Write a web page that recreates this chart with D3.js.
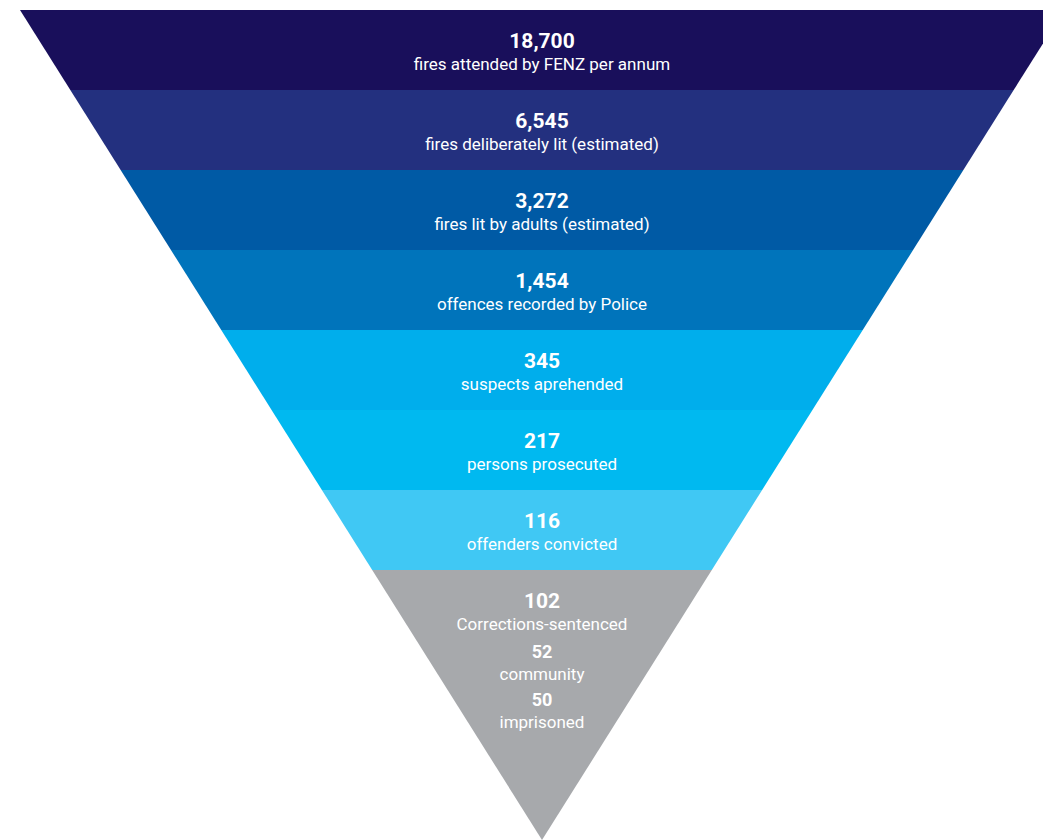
<!DOCTYPE html>
<html>
<head>
  <meta charset="utf-8">
  <title>Deliberately lit fires funnel</title>
  <style>
    body { margin: 0; background: #fff; }
    svg { display: block; }
    text { font-family: Roboto, "Noto Sans", sans-serif; fill: #fff; }
    .num { font-weight: 700; }
  </style>
</head>
<body>
  <script src="https://cdn.jsdelivr.net/npm/d3@7/dist/d3.min.js"></script>
  <script>
    // data
    var values = [18700, 6545, 3272, 1454, 345, 217, 116, 102];
    var labels = [
      "fires attended by FENZ per annum",
      "fires deliberately lit (estimated)",
      "fires lit by adults (estimated)",
      "offences recorded by Police",
      "suspects aprehended",
      "persons prosecuted",
      "offenders convicted",
      "Corrections-sentenced"
    ];
    var subValues = [52, 50];
    var subLabels = ["community", "imprisoned"];
    var colors = ["#190f5b", "#23307f", "#005aa5", "#0074bb", "#00aeec", "#00b9f0", "#40c8f4", "#a7a9ac"];

    var width = 1043, height = 840;
    var topY = 10, apexY = 840, cx = 542, halfTop = 522;
    var bandH = 80;

    var svg = d3.select("body").append("svg").attr("width", width).attr("height", height);

    // band edges for the first seven stages, last stage runs to the apex
    var y = d3.scaleLinear().domain([0, values.length - 1]).range([topY, topY + bandH * (values.length - 1)]);
    var half = d3.scaleLinear().domain([topY, apexY]).range([halfTop, 0]);
    var fmt = d3.format(",");

    var bands = values.map(function(v, i) {
      var y0 = y(i);
      var y1 = i < values.length - 1 ? y(i + 1) : apexY;
      return { v: v, label: labels[i], color: colors[i], y0: y0, y1: y1 };
    });

    svg.selectAll("path.band").data(bands).enter().append("path")
      .attr("class", "band")
      .attr("fill", function(d) { return d.color; })
      .attr("d", function(d) {
        var w0 = half(d.y0), w1 = half(d.y1);
        return "M" + (cx - w0) + "," + d.y0 + "L" + (cx + w0) + "," + d.y0 +
               "L" + (cx + w1) + "," + d.y1 + "L" + (cx - w1) + "," + d.y1 + "Z";
      });

    function addText(txt, yy, size, cls) {
      svg.append("text")
        .attr("class", cls)
        .attr("text-anchor", "middle")
        .attr("x", cx)
        .attr("y", yy)
        .attr("font-size", size)
        .text(txt);
    }

    bands.forEach(function(d) {
      addText(fmt(d.v), d.y0 + 38, 21, "num");
      addText(d.label, d.y0 + 60, 17, "lbl");
    });

    var last = bands[bands.length - 1];
    subValues.forEach(function(v, i) {
      addText(fmt(v), last.y0 + 88 + i * 48, 18, "num");
      addText(subLabels[i], last.y0 + 110 + i * 48, 17, "lbl");
    });
  </script>
</body>
</html>
